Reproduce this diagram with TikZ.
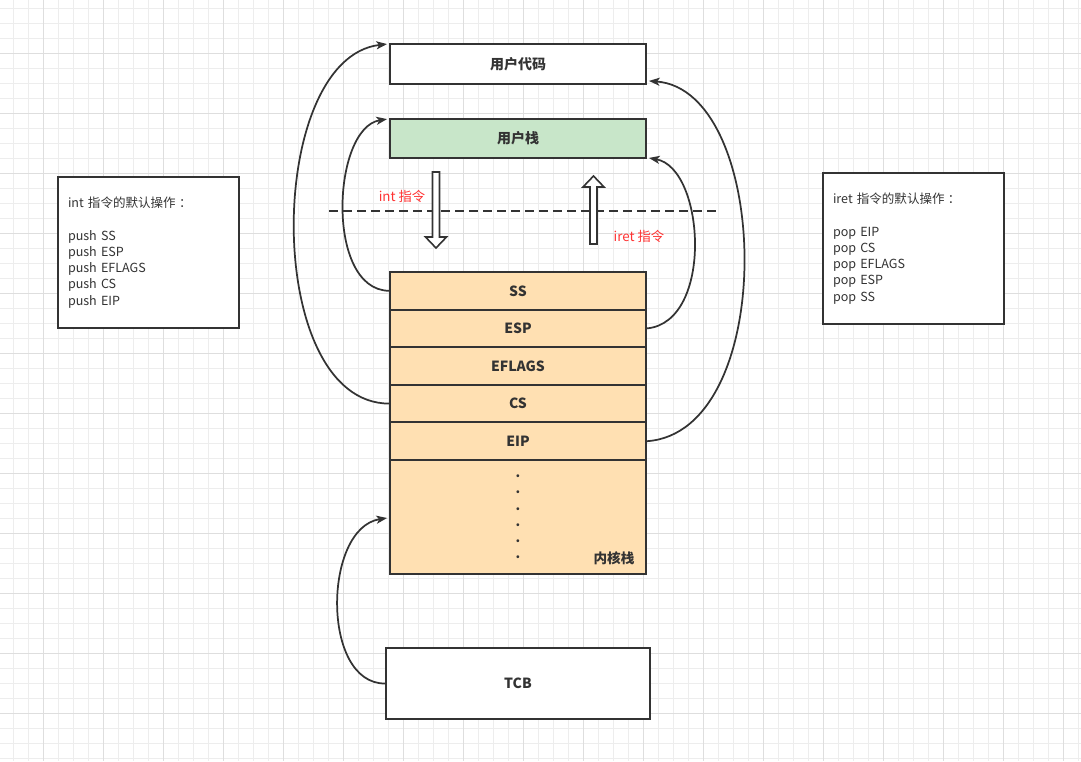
\documentclass[tikz,border=0pt]{standalone}
\usepackage{fontspec}
\setmainfont{Noto Sans CJK SC}
\usetikzlibrary{arrows.meta,calc}
\definecolor{txt}{HTML}{333333}
\definecolor{edge}{HTML}{333333}
\definecolor{minorg}{HTML}{EDEDED}
\definecolor{majorg}{HTML}{DEDEDE}
\definecolor{greenfill}{RGB}{200,230,201}
\definecolor{orangefill}{RGB}{255,224,178}
\definecolor{redtxt}{RGB}{255,51,51}
\tikzset{
  minorline/.style={draw=minorg,line width=0.75pt},
  majorline/.style={draw=majorg,line width=0.75pt},
  box/.style={draw=edge,line width=1.4pt,text=txt,inner sep=0pt,font=\bfseries\fontsize{10.5}{12}\selectfont},
  row/.style={box,fill=orangefill,minimum width=192pt,minimum height=28.2pt,font=\bfseries\fontsize{10.5}{12}\selectfont},
  note/.style={draw=edge,line width=1.4pt,text=txt,fill=white,align=left,text width=120.75pt,inner xsep=7.5pt,inner ysep=0pt,minimum height=113.25pt,font=\fontsize{9.4}{12.2}\selectfont},
  link/.style={draw=edge,line width=1.3pt,-{Stealth[length=8pt,width=6pt,inset=2pt]}},
  hollow/.style={draw=edge,line width=1.2pt,fill=white,line join=miter},
  redlabel/.style={text=redtxt,font=\fontsize{10}{12}\selectfont,inner sep=0pt},
}
\begin{document}
\begin{tikzpicture}[x=0.75pt,y=-0.75pt]
\useasboundingbox (0,0) rectangle (1081,761);
\fill[white] (0,0) rectangle (1081,761);
% grid
\foreach \x in {13,28,...,1080} \draw[minorline] (\x,0) -- (\x,761);
\foreach \y in {8,23,...,760} \draw[minorline] (0,\y) -- (1081,\y);
\foreach \x in {43,103,...,1080} \draw[majorline] (\x,0) -- (\x,761);
\foreach \y in {53,113,...,760} \draw[majorline] (0,\y) -- (1081,\y);

% user boxes
\node[box,fill=white,minimum width=192pt,minimum height=30pt] (ucode) at (518,64) {用户代码};
\node[box,fill=greenfill,minimum width=192pt,minimum height=29.25pt] (ustack) at (518,138.5) {用户栈};

% kernel stack
\node[row] (kbody) at (518,517) [minimum height=85.5pt,align=center,font=\bfseries\fontsize{10}{12.15}\selectfont] {.\\.\\.\\.\\.\\.};
\node[row] (ss) at (518,290.8) {SS};
\node[row] (esp) at (518,328.4) {ESP};
\node[row] (eflags) at (518,366) {EFLAGS};
\node[row] (cs) at (518,403.6) {CS};
\node[row] (eip) at (518,441.2) {EIP};
\node[text=txt,font=\bfseries\fontsize{10.2}{12}\selectfont,inner sep=0pt] (klabel) at (614,558) {内核栈};

% TCB
\node[box,fill=white,minimum width=198pt,minimum height=53.25pt,font=\bfseries\fontsize{10.5}{12}\selectfont] (tcb) at (518,683.5) {TCB};

% notes
\node[note] (intnote) at (148.5,252.5) {int 指令的默认操作\hspace{2.5pt}：\\[12.2pt]push SS\\push ESP\\push EFLAGS\\push CS\\push EIP};
\node[note] (iretnote) at (913.5,248.5) {iret 指令的默认操作\hspace{2.5pt}：\\[12.2pt]pop EIP\\pop CS\\pop EFLAGS\\pop ESP\\pop SS};

% dashed boundary
\coordinate (dl) at (329,211);
\coordinate (dr) at (717,211);
\draw[draw=edge,line width=1.5pt,dash pattern=on 6.75pt off 3.75pt] (dl) -- (dr);

% hollow arrows
\draw[hollow] (432.5,172) -- (439.5,172) -- (439.5,237) -- (446.5,237) -- (436,248) -- (425.5,237) -- (432.5,237) -- cycle;
\draw[hollow] (590,244) -- (597,244) -- (597,187) -- (604,187) -- (593.5,176) -- (583,187) -- (590,187) -- cycle;
\node[redlabel] (intlbl) at (402,196) {int 指令};
\node[redlabel] (iretlbl) at (639,236) {iret 指令};

% curved connectors
\draw[link] (ss.west) .. controls (325,290) and (332,128) .. ($(ustack.north west)+(-2,1)$);
\draw[link] (cs.west) .. controls (262,403) and (265,58) .. ($(ucode.north west)+(-2,1)$);
\draw[link] (esp.east) .. controls (714,322) and (705,168) .. ($(ustack.south east)+(2,-1)$);
\draw[link] (eip.east) .. controls (779,432) and (772,90) .. ($(ucode.south east)+(2,-4)$);
\draw[link] (tcb.west) .. controls (321,684) and (323,528) .. ($(kbody.west)+(-2,1)$);
\end{tikzpicture}
\end{document}
